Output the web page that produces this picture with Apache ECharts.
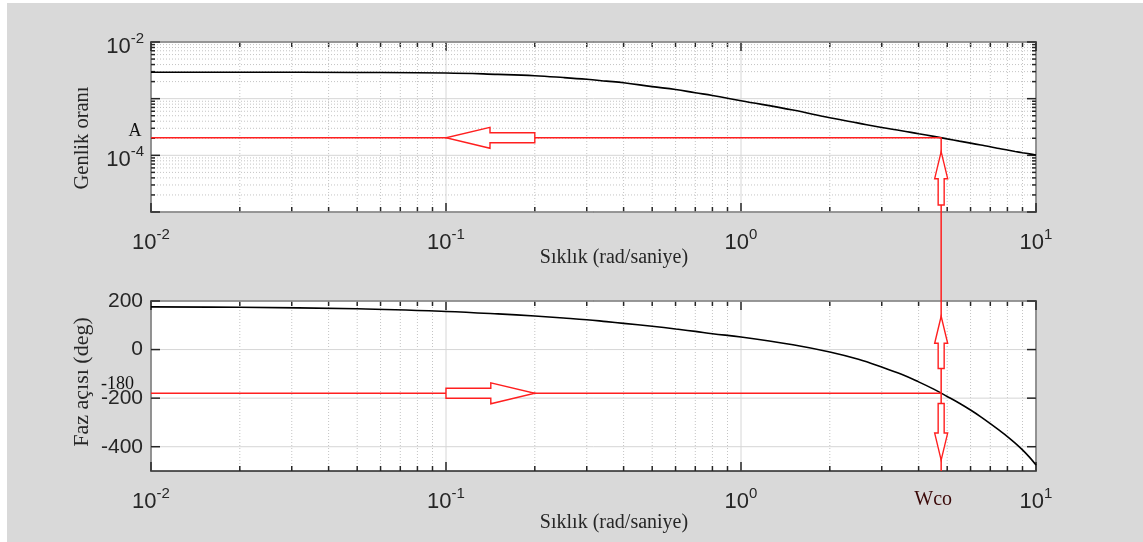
<!DOCTYPE html>
<html>
<head>
<meta charset="utf-8">
<title>Bode</title>
<script src="https://cdn.jsdelivr.net/npm/echarts@6/dist/echarts.min.js"></script>
<style>
  html, body { margin: 0; padding: 0; background: #ffffff; }
  #bg { position: absolute; left: 7px; top: 3px; right: 0; bottom: 0; background: #d9d9d9; }
  #chart { position: absolute; left: 0; top: 0; width: 1143px; height: 542px; }
</style>
</head>
<body>
<div id="bg"></div>
<div id="chart"></div>
<script>
// Frequency samples (rad/s) and the response read at each of them
const freq      = [0.01, 0.02, 0.05, 0.1, 0.15, 0.2, 0.25, 0.3, 0.35, 0.4, 0.5, 0.6, 0.7, 0.8, 1,
                   1.5, 2, 2.5, 3, 3.5, 4, 4.5, 5, 5.5, 6, 6.5, 7, 7.5, 8, 8.5, 9, 9.5, 10];
const magnitude = [2.92e-3, 2.92e-3, 2.9e-3, 2.84e-3, 2.68e-3, 2.54e-3, 2.36e-3, 2.2e-3, 2.04e-3, 1.91e-3,
                   1.63e-3, 1.45e-3, 1.27e-3, 1.14e-3, 9.2e-4,
                   6.3e-4, 4.6e-4, 3.7e-4, 3.1e-4, 2.72e-4, 2.4e-4, 2.16e-4, 1.95e-4, 1.78e-4, 1.64e-4,
                   1.52e-4, 1.42e-4, 1.32e-4, 1.24e-4, 1.17e-4, 1.11e-4, 1.06e-4, 1.01e-4];
const phaseDeg  = [176, 174, 168, 157, 147, 138, 130, 123, 115, 108, 96, 85, 75, 65, 52,
                   20, -10, -40, -72, -102, -133, -163, -193, -221, -249, -277, -305, -332, -358, -385, -413, -443, -475];

// Crossover construction
const PHASE_LEVEL = -180;   // phase reference line
const W_CO = 4.77;          // frequency where the phase reaches -180
const A_GAIN = 2.04e-4;     // magnitude at W_CO

// Tick labels
const freqTickLabels  = [0.01, 0.1, 1, 10];
const magTickLabels   = [1e-2, 1e-4];
const phaseTickLabels = [200, 0, -200, -400];

// Annotation arrows: [tailX, tailY, tipX, tipY, kind]  (kind 0 = horizontal, 1 = vertical)
const magArrows   = [[0.2, A_GAIN, 0.1, A_GAIN, 0], [W_CO, 1.33e-5, W_CO, 1.16e-4, 1]];
const phaseArrows = [[0.1, PHASE_LEVEL, 0.2, PHASE_LEVEL, 0], [W_CO, -78, W_CO, 137, 1], [W_CO, -222, W_CO, -455, 1]];

const INK = '#262626';
const RED = '#ff1f1f';
const SANS = 'Liberation Sans, Arial, sans-serif';
const SERIF = 'Liberation Serif, Times New Roman, serif';

// decade and in-between positions for the log grids
function logGridValues(lo, hi) {
  const out = [];
  for (let e = lo; e <= hi; e++) {
    const base = Math.pow(10, e);
    out.push({ v: base, major: 1 });
    if (e < hi) for (let k = 2; k <= 9; k++) out.push({ v: k * base, major: 0 });
  }
  return out;
}
const xGrid = logGridValues(-2, 1);
const magGrid = logGridValues(-5, -2);
const phaseGrid = phaseTickLabels.map(v => ({ v: v, major: 1 }));

function powLabel(v) {
  const e = Math.round(Math.log10(v));
  return '{b|10}{s|' + e + '}';
}
const powRich = {
  b: { fontSize: 22, fontFamily: SANS, color: INK, verticalAlign: 'bottom', lineHeight: 22 },
  s: { fontSize: 15, fontFamily: SANS, color: INK, verticalAlign: 'bottom', lineHeight: 22, padding: [0, 0, 12, 0] }
};

// vertical grid lines + inside ticks on top and bottom edges
function vGrid(axisIdx, yRef) {
  return {
    type: 'custom', xAxisIndex: axisIdx, yAxisIndex: axisIdx, silent: true, z: 1,
    data: xGrid.map(g => [g.v, yRef, g.major]),
    encode: { x: 0, y: 1 },
    renderItem: function (params, api) {
      const cs = params.coordSys;
      const x = api.coord([api.value(0), yRef])[0];
      const major = api.value(2) === 1;
      const tl = major ? 9 : 5;
      return { type: 'group', children: [
        { type: 'line', shape: { x1: x, y1: cs.y, x2: x, y2: cs.y + cs.height },
          style: { stroke: major ? '#d6d6d6' : '#c4c4c4', lineWidth: 1, lineDash: major ? null : [1, 2] } },
        { type: 'line', shape: { x1: x, y1: cs.y, x2: x, y2: cs.y + tl }, style: { stroke: INK, lineWidth: 1.5 } },
        { type: 'line', shape: { x1: x, y1: cs.y + cs.height, x2: x, y2: cs.y + cs.height - tl }, style: { stroke: INK, lineWidth: 1.5 } }
      ] };
    }
  };
}
// horizontal grid lines + inside ticks on left and right edges
function hGrid(axisIdx, values, xRef) {
  return {
    type: 'custom', xAxisIndex: axisIdx, yAxisIndex: axisIdx, silent: true, z: 1,
    data: values.map(g => [xRef, g.v, g.major]),
    encode: { x: 0, y: 1 },
    renderItem: function (params, api) {
      const cs = params.coordSys;
      const y = api.coord([xRef, api.value(1)])[1];
      const major = api.value(2) === 1;
      const tl = major ? 9 : 4;
      return { type: 'group', children: [
        { type: 'line', shape: { x1: cs.x, y1: y, x2: cs.x + cs.width, y2: y },
          style: { stroke: major ? '#d6d6d6' : '#c4c4c4', lineWidth: 1, lineDash: major ? null : [1, 2] } },
        { type: 'line', shape: { x1: cs.x, y1: y, x2: cs.x + tl, y2: y }, style: { stroke: INK, lineWidth: 1.5 } },
        { type: 'line', shape: { x1: cs.x + cs.width, y1: y, x2: cs.x + cs.width - tl, y2: y }, style: { stroke: INK, lineWidth: 1.5 } }
      ] };
    }
  };
}
// hollow block arrows
function arrows(axisIdx, data) {
  return {
    type: 'custom', xAxisIndex: axisIdx, yAxisIndex: axisIdx, silent: true, z: 6, clip: false,
    data: data,
    encode: { x: [0, 2], y: [1, 3] },
    renderItem: function (params, api) {
      const p1 = api.coord([api.value(0), api.value(1)]);
      const p2 = api.coord([api.value(2), api.value(3)]);
      const horiz = api.value(4) === 0;
      const headLen = horiz ? 44 : 27;
      const shaft = horiz ? 5 : 3;
      const head = horiz ? 10.5 : 6.5;
      const dx = p2[0] - p1[0], dy = p2[1] - p1[1];
      const L = Math.sqrt(dx * dx + dy * dy);
      const ux = dx / L, uy = dy / L, nx = -uy, ny = ux;
      const bx = p2[0] - ux * headLen, by = p2[1] - uy * headLen;
      const pts = [
        [p1[0] + nx * shaft, p1[1] + ny * shaft],
        [bx + nx * shaft, by + ny * shaft],
        [bx + nx * head, by + ny * head],
        [p2[0], p2[1]],
        [bx - nx * head, by - ny * head],
        [bx - nx * shaft, by - ny * shaft],
        [p1[0] - nx * shaft, p1[1] - ny * shaft]
      ];
      return { type: 'polygon', shape: { points: pts }, style: { fill: '#ffffff', stroke: RED, lineWidth: 1.4 } };
    }
  };
}

const chart = echarts.init(document.getElementById('chart'), null, { renderer: 'canvas' });

const xAxisCommon = {
  type: 'log', logBase: 10, min: 0.01, max: 10,
  axisLine: { show: false }, axisTick: { show: false }, splitLine: { show: false }, minorTick: { show: false },
  axisLabel: { show: true, margin: 20, formatter: powLabel, rich: powRich, showMinLabel: true, showMaxLabel: true,
               hideOverlap: false }
};

const option = {
  animation: false,
  backgroundColor: 'transparent',
  grid: [
    { left: 151, top: 42, width: 885, height: 170, show: true, backgroundColor: '#ffffff', borderColor: INK, borderWidth: 1.6 },
    { left: 151, top: 301, width: 885, height: 170, show: true, backgroundColor: '#ffffff', borderColor: INK, borderWidth: 1.6 }
  ],
  xAxis: [
    Object.assign({ gridIndex: 0 }, xAxisCommon),
    Object.assign({ gridIndex: 1 }, xAxisCommon)
  ],
  yAxis: [
    { gridIndex: 0, type: 'log', logBase: 10, min: 1e-5, max: 1e-2,
      axisLine: { show: false }, axisTick: { show: false }, splitLine: { show: false },
      axisLabel: { margin: 7, rich: powRich, padding: [10, 0, 0, 0], showMinLabel: true, showMaxLabel: true,
        formatter: v => magTickLabels.some(t => Math.abs(Math.log10(t) - Math.log10(v)) < 1e-6) ? powLabel(v) : '' } },
    { gridIndex: 1, type: 'value', min: -500, max: 200, interval: 100,
      axisLine: { show: false }, axisTick: { show: false }, splitLine: { show: false },
      axisLabel: { margin: 8, fontSize: 21, fontFamily: SANS, color: INK, padding: [4, 0, 0, 0],
        showMinLabel: true, showMaxLabel: true,
        formatter: v => phaseTickLabels.indexOf(v) >= 0 ? String(v) : '' } }
  ],
  series: [
    vGrid(0, 1e-3),
    hGrid(0, magGrid, 1),
    vGrid(1, 0),
    hGrid(1, phaseGrid, 1),
    { type: 'line', xAxisIndex: 0, yAxisIndex: 0, z: 4, showSymbol: false, smooth: 0.4, silent: true,
      data: freq.map((f, i) => [f, magnitude[i]]), lineStyle: { color: '#000000', width: 1.6 } },
    { type: 'line', xAxisIndex: 1, yAxisIndex: 1, z: 4, showSymbol: false, smooth: 0.4, silent: true,
      data: freq.map((f, i) => [f, phaseDeg[i]]), lineStyle: { color: '#000000', width: 1.6 } },
    { type: 'line', xAxisIndex: 0, yAxisIndex: 0, z: 5, showSymbol: false, silent: true,
      data: [[0.01, A_GAIN], [W_CO, A_GAIN], [W_CO, 1e-5]], lineStyle: { color: RED, width: 1.5 } },
    { type: 'line', xAxisIndex: 1, yAxisIndex: 1, z: 5, showSymbol: false, silent: true,
      data: [[0.01, PHASE_LEVEL], [W_CO, PHASE_LEVEL]], lineStyle: { color: RED, width: 1.5 } },
    { type: 'line', xAxisIndex: 1, yAxisIndex: 1, z: 5, showSymbol: false, silent: true,
      data: [[W_CO, 200], [W_CO, -500]], lineStyle: { color: RED, width: 1.5 } },
    arrows(0, magArrows),
    arrows(1, phaseArrows)
  ]
};
chart.setOption(option);

// annotations placed from the axes' own scales
const pTop = chart.convertToPixel({ gridIndex: 0 }, [W_CO, A_GAIN]);
const pTopBottom = chart.convertToPixel({ gridIndex: 0 }, [W_CO, 1e-5]);
const pBot = chart.convertToPixel({ gridIndex: 1 }, [W_CO, 200]);
const pLvl = chart.convertToPixel({ gridIndex: 1 }, [0.01, PHASE_LEVEL]);
const pBotEdge = chart.convertToPixel({ gridIndex: 1 }, [W_CO, -500]);

chart.setOption({
  graphic: [
    { type: 'line', z: 5, silent: true, shape: { x1: pTopBottom[0], y1: pTopBottom[1], x2: pBot[0], y2: pBot[1] },
      style: { stroke: RED, lineWidth: 1.5 } },
    { type: 'text', silent: true, x: 83, y: 138, rotation: Math.PI / 2,
      style: { text: 'Genlik oranı', font: '20.5px ' + SERIF, fill: INK, align: 'center', verticalAlign: 'middle' } },
    { type: 'text', silent: true, x: 82, y: 382, rotation: Math.PI / 2,
      style: { text: 'Faz açısı (deg)', font: '22px ' + SERIF, fill: INK, align: 'center', verticalAlign: 'middle' } },
    { type: 'text', silent: true, x: 614, y: 258,
      style: { text: 'Sıklık (rad/saniye)', font: '20px ' + SERIF, fill: INK, align: 'center', verticalAlign: 'middle' } },
    { type: 'text', silent: true, x: 614, y: 523,
      style: { text: 'Sıklık (rad/saniye)', font: '20px ' + SERIF, fill: INK, align: 'center', verticalAlign: 'middle' } },
    { type: 'text', silent: true, x: 135, y: pTop[1] - 7,
      style: { text: 'A', font: '18px ' + SERIF, fill: '#111111', align: 'center', verticalAlign: 'middle' } },
    { type: 'text', silent: true, x: 134, y: pLvl[1] - 9,
      style: { text: '-180', font: '18px ' + SERIF, fill: '#111111', align: 'right', verticalAlign: 'middle' } },
    { type: 'text', silent: true, x: pBotEdge[0] - 8, y: pBotEdge[1] + 29,
      style: { text: 'Wco', font: '20px ' + SERIF, fill: '#3a0808', align: 'center', verticalAlign: 'middle' } }
  ]
});
</script>
</body>
</html>
